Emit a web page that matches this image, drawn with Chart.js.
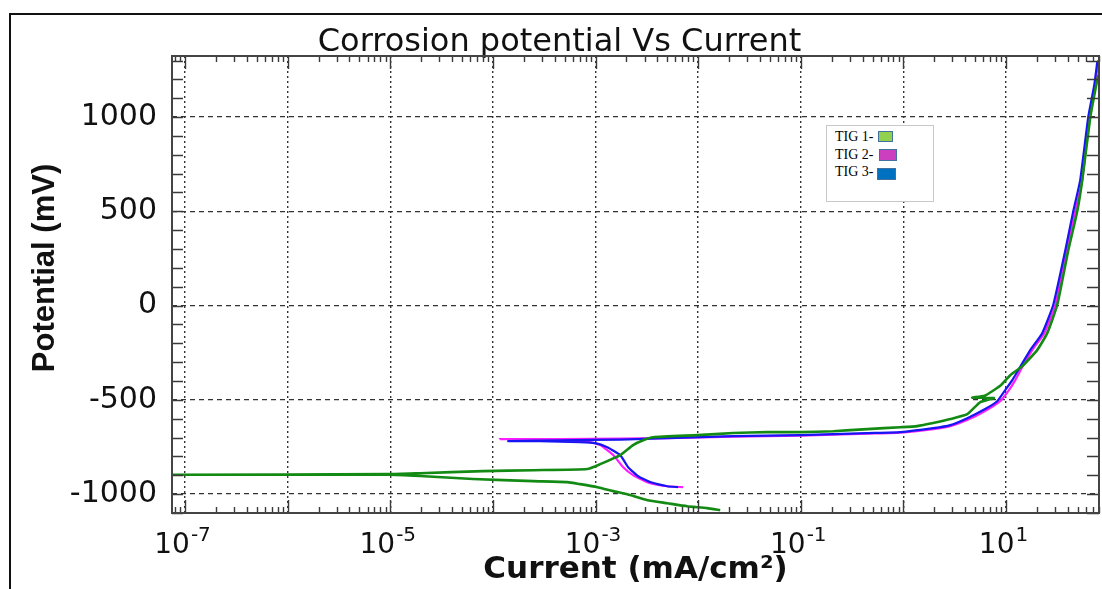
<!DOCTYPE html>
<html>
<head>
<meta charset="utf-8">
<title>Corrosion potential Vs Current</title>
<script src="https://cdn.jsdelivr.net/npm/chart.js@4"></script>
<style>
  html, body { margin: 0; padding: 0; background: #fff; }
  #wrap { position: relative; width: 1102px; height: 589px; overflow: hidden; }
  #frame { position: absolute; left: 9px; top: 13px; right: -4px; bottom: -4px; border-top: 2px solid #111; border-left: 2px solid #111; }
  #chart { position: absolute; left: 0; top: 0; }
  #legend { position: absolute; left: 826px; top: 125px; width: 106px; height: 75px; border: 1px solid #c8c8c8; background: #fff;
            font-family: "Liberation Serif", "Times New Roman", serif; font-size: 14px; color: #000; }
  #legend .row { position: absolute; left: 8px; height: 16px; line-height: 16px; }
  #legend .sw { position: absolute; box-sizing: border-box; border: 1.5px solid #41719c; }
</style>
</head>
<body>
<div id="wrap">
  <div id="frame"></div>
  <canvas id="chart" width="1102" height="589"></canvas>
  <div id="legend">
    <div class="row" style="top:3px">TIG 1-</div>
    <div class="sw" style="left:51px;top:5px;width:15px;height:11px;background:#92d050"></div>
    <div class="row" style="top:21px">TIG 2-</div>
    <div class="sw" style="left:52px;top:23px;width:18px;height:12px;background:#cc3fbf"></div>
    <div class="row" style="top:38px">TIG 3-</div>
    <div class="sw" style="left:50px;top:42px;width:19px;height:12px;background:#0070c0"></div>
  </div>
</div>
<script>
// axis ranges and ticks
const xMin = 7.46e-8;
const xMax = 80.5;
const yMin = -1100;
const yMax = 1324;
const xDecades = [1e-7, 1e-6, 1e-5, 1e-4, 1e-3, 1e-2, 1e-1, 1e0, 1e1];
const xLabelExponents = [-7, -5, -3, -1, 1];
const yTickValues = [-1000, -500, 0, 500, 1000];
const yTitle = 'Potential (mV)';

// TIG 1 (cathodic end -> Ecorr -> anodic end), current in mA/cm2, potential in mV
const tig1Current = [1.64e-2, 1.22e-2, 7.8e-3, 5.0e-3, 3.2e-3, 2.17e-3, 1.49e-3, 1.04e-3, 7.1e-4, 5.3e-4,
  2.47e-4, 6.4e-5, 1.95e-5, 9.7e-6, 7.3e-8, 9.7e-6, 1.95e-5, 8.0e-5, 2.47e-4, 8.3e-4,
  1.11e-3, 1.74e-3, 2.32e-3, 2.91e-3, 3.64e-3, 9.8e-3, 2.19e-2, 4.71e-2, 9.86e-2, 0.207,
  0.444, 0.931, 1.36, 1.95, 2.86, 4.19, 5.61, 7.6, 4.69, 6.2,
  8.77, 11.0, 14.4, 20.1, 25.2, 31.5, 40.4, 49.4, 55.3, 66.2, 74.0, 79.2];
const tig1Potential = [-1085, -1074, -1064, -1048, -1032, -1005, -984, -963, -947, -936,
  -931, -920, -904, -897, -897, -894, -889, -878, -873, -867,
  -841, -793, -740, -714, -698, -687, -676, -671, -671, -666,
  -655, -645, -639, -623, -602, -576, -512, -490, -488, -478,
  -425, -369, -321, -236, -146, 3, 294, 501, 666, 1000, 1143, 1223];

// TIG 2
const tig2Current = [7.14e-3, 5.0e-3, 3.18e-3, 2.32e-3, 1.86e-3, 1.49e-3, 1.11e-3, 8.85e-4, 4.52e-4, 1.17e-4,
  4.52e-4, 1.74e-3, 4.99e-3, 2.19e-2, 9.86e-2, 0.444, 0.931, 1.95, 2.86, 4.19,
  6.0, 8.77, 10.5, 12.3, 14.4, 18.0, 23.6, 30.2, 38.6, 47.2, 55.3, 64.7, 74.0, 79.2];
const tig2Potential = [-963, -958, -936, -899, -857, -793, -740, -724, -714, -708,
  -708, -705, -703, -695, -690, -679, -674, -655, -639, -607,
  -565, -507, -454, -395, -326, -236, -146, 3, 294, 501, 666, 1000, 1170, 1302];

// TIG 3
const tig3Current = [6.38e-3, 5.0e-3, 3.40e-3, 2.60e-3, 2.08e-3, 1.74e-3, 1.30e-3, 9.9e-4, 7.08e-4, 2.88e-4,
  1.41e-4, 4.52e-4, 1.74e-3, 4.99e-3, 2.19e-2, 9.86e-2, 0.444, 0.931, 1.95, 2.86,
  4.19, 6.0, 8.20, 9.82, 11.5, 13.7, 17.2, 22.5, 28.8, 37.8, 45.2, 52.8, 63.2, 72.4, 77.4];
const tig3Potential = [-963, -958, -936, -905, -857, -793, -751, -729, -724, -719,
  -719, -714, -711, -703, -692, -687, -676, -671, -650, -634,
  -597, -554, -507, -448, -395, -326, -236, -146, 3, 294, 501, 666, 1000, 1170, 1292];

const toPoints = (xs, ys) => xs.map((x, i) => ({x: x, y: ys[i]}));

// box round the plot with inward tick marks, power-of-ten labels and the y title
const frameTicks = {
  id: 'frameTicks',
  afterDraw(chart) {
    const {ctx, chartArea: a, scales: {x, y}} = chart;
    ctx.save();
    ctx.strokeStyle = '#3a3a3a';
    ctx.lineWidth = 1.4;
    ctx.beginPath();
    for (let v = -1100; v <= yMax; v += 100) {
      const py = Math.round(y.getPixelForValue(v)) + 0.5;
      ctx.moveTo(a.left, py); ctx.lineTo(a.left + 11, py);
      ctx.moveTo(a.right, py); ctx.lineTo(a.right - 12, py);
    }
    for (let e = -8; e <= 1; e++) {
      for (let m = 1; m <= 9; m++) {
        const v = m * Math.pow(10, e);
        if (v < xMin || v > xMax) continue;
        const px = Math.round(x.getPixelForValue(v)) + 0.5;
        const len = m === 1 ? 13 : 6;
        ctx.moveTo(px, a.bottom); ctx.lineTo(px, a.bottom - len);
        ctx.moveTo(px, a.top); ctx.lineTo(px, a.top + len);
      }
    }
    ctx.stroke();
    ctx.lineWidth = 2;
    ctx.strokeStyle = '#444';
    ctx.strokeRect(a.left, a.top, a.right - a.left, a.bottom - a.top);

    // x tick labels as 10 with a raised exponent
    ctx.fillStyle = '#111';
    ctx.textBaseline = 'alphabetic';
    ctx.textAlign = 'left';
    const baseFont = '28px "DejaVu Sans"';
    const expFont = '20px "DejaVu Sans"';
    xLabelExponents.forEach(e => {
      const px = x.getPixelForValue(Math.pow(10, e));
      ctx.font = baseFont;
      const wBase = ctx.measureText('10').width;
      ctx.font = expFont;
      const wExp = ctx.measureText(String(e)).width;
      const start = px - (wBase + wExp) / 2 - 3;
      ctx.font = baseFont;
      ctx.fillText('10', start, a.bottom + 40);
      ctx.font = expFont;
      ctx.fillText(String(e), start + wBase + 1, a.bottom + 28);
    });

    // y axis title
    ctx.translate(45, 268);
    ctx.rotate(-Math.PI / 2);
    ctx.textAlign = 'center';
    ctx.textBaseline = 'middle';
    ctx.font = 'bold 31px "Liberation Sans"';
    ctx.fillText(yTitle, 0, 0);
    ctx.restore();
  }
};

const ctx = document.getElementById('chart').getContext('2d');

new Chart(ctx, {
  type: 'scatter',
  data: {
    datasets: [{
      label: 'TIG 1',
      data: toPoints(tig1Current, tig1Potential),
      borderColor: '#138a13',
      borderWidth: 2.6,
      order: 0
    }, {
      label: 'TIG 2',
      data: toPoints(tig2Current, tig2Potential),
      borderColor: '#ff1eff',
      borderWidth: 2.2,
      order: 2
    }, {
      label: 'TIG 3',
      data: toPoints(tig3Current, tig3Potential),
      borderColor: '#1616f2',
      borderWidth: 2.2,
      order: 1
    }]
  },
  options: {
    responsive: false,
    animation: false,
    showLine: true,
    elements: {
      point: { radius: 0 },
      line: { tension: 0.15, fill: false }
    },
    layout: {
      padding: { left: 20, right: 3, top: 0, bottom: 0 }
    },
    plugins: {
      legend: { display: false },
      tooltip: { enabled: false },
      title: {
        display: true,
        text: 'Corrosion potential Vs Current',
        color: '#111',
        font: { family: 'DejaVu Sans', size: 32, weight: 'normal', lineHeight: 1 },
        padding: { top: 27, bottom: -3 }
      }
    },
    scales: {
      x: {
        type: 'logarithmic',
        position: 'bottom',
        min: xMin,
        max: xMax,
        afterBuildTicks: scale => { scale.ticks = xDecades.map(v => ({value: v})); },
        afterFit: scale => { scale.height = 76; },
        grid: { color: '#333', lineWidth: 1.4, drawTicks: false },
        border: { display: false, dash: [2, 3] },
        ticks: { display: false },
        title: {
          display: true,
          text: 'Current (mA/cm\u00B2)',
          color: '#111',
          font: { family: 'DejaVu Sans', size: 31, weight: 'bold' },
          padding: { top: 0, bottom: 0 }
        }
      },
      y: {
        type: 'linear',
        min: yMin,
        max: yMax,
        afterBuildTicks: scale => { scale.ticks = yTickValues.map(v => ({value: v})); },
        afterFit: scale => { scale.width = 152; },
        grid: { color: '#333', lineWidth: 1.3, drawTicks: false },
        border: { display: false, dash: [5, 4] },
        ticks: {
          padding: 15,
          color: '#111',
          font: { family: 'DejaVu Sans', size: 30 },
          callback: value => String(value)
        },
        title: { display: false }
      }
    }
  },
  plugins: [frameTicks]
});
</script>
</body>
</html>
